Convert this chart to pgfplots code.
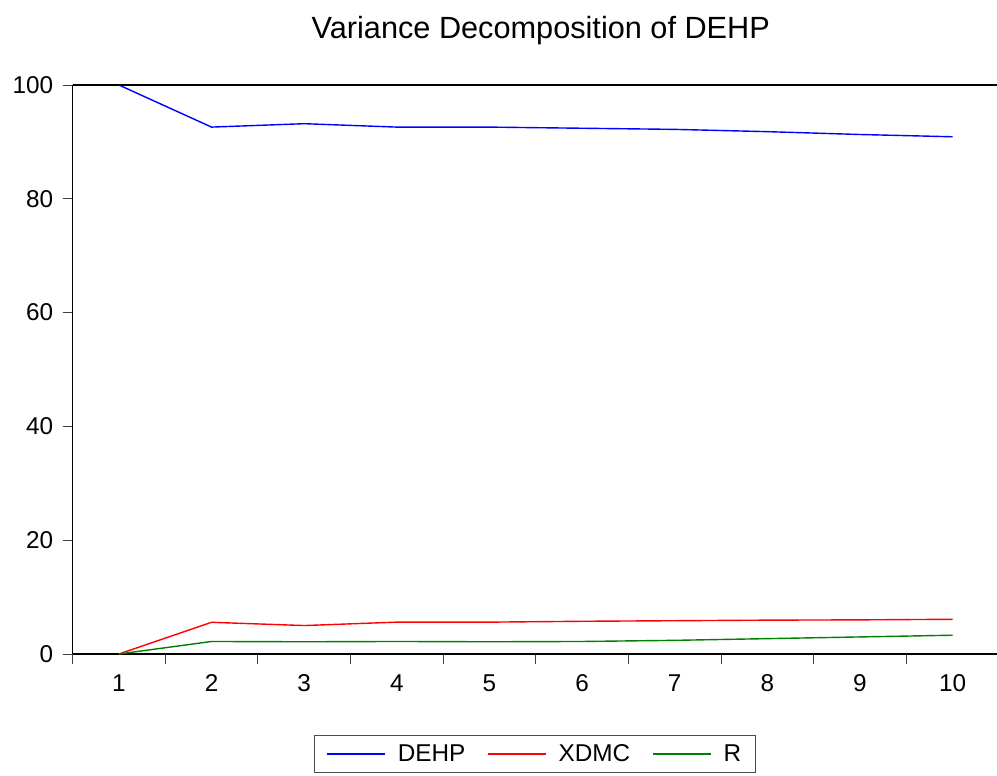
\documentclass[border=0pt]{standalone}
\usepackage{fontspec}
\setmainfont{Liberation Sans}
\usepackage{pgfplots}
\pgfplotsset{compat=1.18}
\definecolor{evgreen}{RGB}{0,128,0}
\begin{document}
\begin{tikzpicture}
\path[use as bounding box] (-72.6bp,-122bp) rectangle (924.4bp,654bp);
\begin{axis}[
  at={(0,0)}, anchor=south west,
  scale only axis,
  width=924.4bp, height=569bp,
  xmin=0.5, xmax=10.48, ymin=0, ymax=100,
  axis x line=box, axis y line=left,
  x axis line style={-, line width=1.1bp},
  y axis line style={-, line width=1.1bp},
  xtick={1,...,10},
  major x tick style={draw=none},
  minor xtick={0.5,1.5,...,9.5},
  minor tick length=10bp,
  xtick pos=left,
  ytick={0,20,...,100},
  ytick pos=left,
  major tick length=10bp,
  tick align=outside,
  tick style={black!75, line width=0.8bp},
  ticklabel style={font=\fontsize{24.4}{28}\selectfont},
  /pgf/number format/assume math mode=true,
  yticklabel style={xshift=-6bp},
  xticklabel style={yshift=-7bp},
  title={Variance Decomposition of DEHP},
  title style={font=\fontsize{30.8}{34}\selectfont, at={(0.5,1.086)}, anchor=center, xshift=6bp},
  legend columns=3,
  legend style={at={(0.5,-0.1757)}, anchor=center, draw=black!70, line width=0.8bp,
    font=\fontsize{24.4}{28}\selectfont, inner ysep=7bp, inner xsep=12bp,
    /tikz/every odd column/.append style={column sep=10bp},
    /tikz/every even column/.append style={column sep=20bp}},
  legend image code/.code={\draw[#1] (0bp,0bp) -- (58bp,0bp);},
  clip=false,
]
\addplot[blue, line width=1.4bp] coordinates {
(1,100) (2,92.6) (3,93.2) (4,92.6) (5,92.6) (6,92.4) (7,92.2) (8,91.8) (9,91.3) (10,90.9)};
\addlegendentry{DEHP}
\addplot[red, line width=1.4bp] coordinates {
(1,0) (2,5.57) (3,5.0) (4,5.6) (5,5.6) (6,5.75) (7,5.85) (8,5.95) (9,6.0) (10,6.1)};
\addlegendentry{XDMC}
\addplot[evgreen, line width=1.4bp] coordinates {
(1,0) (2,2.2) (3,2.15) (4,2.2) (5,2.15) (6,2.2) (7,2.4) (8,2.7) (9,3.0) (10,3.3)};
\addlegendentry{R}
\end{axis}
\end{tikzpicture}
\end{document}
